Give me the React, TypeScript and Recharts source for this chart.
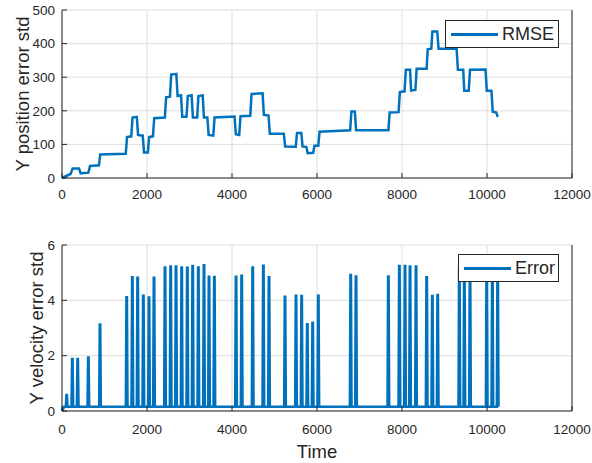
import {
  LineChart,
  Line,
  XAxis,
  YAxis,
  CartesianGrid,
  Legend,
  Label,
  ReferenceLine,
} from 'recharts';

// RMSE step curve: breakpoints
const rmseTime = [
  0, 200, 250, 400, 440, 620, 660, 870, 900, 1500, 1530, 1630, 1660, 1760, 1790, 1900, 1930, 2020,
  2050, 2140, 2170, 2420, 2450, 2540, 2570, 2690, 2720, 2800, 2830, 2930, 2960, 3050, 3080, 3180,
  3210, 3310, 3340, 3420, 3450, 3560, 3590, 4060, 4090, 4170, 4200, 4430, 4460, 4720, 4750, 4860,
  4890, 5220, 5250, 5500, 5530, 5630, 5660, 5750, 5780, 5910, 5940, 6030, 6060, 6780, 6810, 6890,
  6920, 7680, 7710, 7920, 7950, 8060, 8090, 8190, 8215, 8315, 8345, 8580, 8605, 8690, 8715, 8830,
  8860, 9285, 9315, 9440, 9465, 9570, 9600, 9965, 9995, 10105, 10135, 10220, 10250,
];
const rmseValue = [
  0, 12, 28, 28, 14, 16, 36, 38, 70, 72, 122, 124, 180, 182, 128, 126, 76, 76,
  122, 124, 178, 180, 240, 242, 308, 310, 244, 246, 182, 182, 244, 246, 180, 180,
  244, 246, 180, 180, 128, 126, 180, 183, 130, 128, 184, 185, 250, 252, 188, 186,
  132, 132, 94, 93, 134, 134, 94, 92, 74, 75, 96, 96, 138, 142, 198, 198,
  142, 142, 195, 196, 256, 258, 322, 322, 260, 262, 325, 325, 383, 385, 436, 436,
  385, 385, 322, 322, 260, 260, 322, 323, 260, 260, 197, 195, 182,
];

// Velocity error: spike times and peak heights, baseline level between spikes
const spikeTime = [
  110, 243, 369, 620, 894, 1522, 1655, 1780, 1914, 2047, 2165, 2424, 2557, 2683, 2816, 2949,
  3075, 3208, 3341, 3459, 3585, 4095, 4228, 4487, 4738, 4871, 5247, 5506, 5639, 5772, 5898,
  6031, 6793, 6918, 7679, 7938, 8071, 8189, 8330, 8581, 8714, 8840, 9349, 9467, 9600, 9993,
  10126, 10251,
];
const spikeHeight = [
  0.58, 1.88, 1.88, 1.93, 3.13, 4.11, 4.83, 4.82, 4.17, 4.1, 4.82, 5.19, 5.22, 5.22, 5.19, 5.18,
  5.24, 5.19, 5.27, 4.85, 4.84, 4.85, 4.89, 5.19, 5.25, 4.83, 4.13, 4.17, 4.16, 3.14, 3.19,
  4.17, 4.92, 4.86, 4.86, 5.24, 5.24, 5.22, 5.22, 4.83, 4.16, 4.19, 5.2, 5.2, 5.2, 5.2,
  5.2, 5.2,
];
const errorBase = 0.15;

const timeTicks = [0, 2000, 4000, 6000, 8000, 10000, 12000];
const posTicks = [0, 100, 200, 300, 400, 500];
const velTicks = [0, 2, 4, 6];

const BLUE = '#0072BD';
const INK = '#262626';
const GRID = '#dedede';
const FONT = '"Liberation Sans", Arial, sans-serif';

const rmseData = rmseTime.map((t, i) => ({ t, v: rmseValue[i] }));

const errorData: { t: number; v: number }[] = [{ t: 0, v: 0 }, { t: 50, v: errorBase }];
spikeTime.forEach((t, i) => {
  errorData.push({ t: t - 20, v: errorBase });
  errorData.push({ t: t - 6, v: spikeHeight[i] });
  errorData.push({ t: t + 6, v: spikeHeight[i] });
  errorData.push({ t: t + 20, v: errorBase });
});

const tickStyle = { fill: INK, fontSize: 13.5, fontFamily: FONT };

function AxisTitle({ viewBox, value, x }: any) {
  const cy = viewBox.y + viewBox.height / 2;
  return (
    <text
      x={x}
      y={cy}
      transform={`rotate(-90, ${x}, ${cy})`}
      textAnchor="middle"
      dominantBaseline="central"
      fill={INK}
      fontSize={18.5}
      fontFamily={FONT}
    >
      {value}
    </text>
  );
}

function LegendBox({ name, width }: { name: string; width: number }) {
  return (
    <div
      style={{
        width,
        height: 28,
        boxSizing: 'border-box',
        border: `1px solid ${INK}`,
        background: '#fff',
        display: 'flex',
        alignItems: 'center',
        fontFamily: FONT,
        fontSize: 18,
        color: INK,
      }}
    >
      <div style={{ width: 47, height: 3, background: BLUE, marginLeft: 5, marginRight: 4 }} />
      <span>{name}</span>
    </div>
  );
}

export default function App() {
  return (
    <div style={{ position: 'absolute', left: 0, top: 0, width: 592, height: 463, background: '#fff' }}>
      <LineChart width={592} height={212} data={rmseData} margin={{ top: 10, right: 20, left: 0, bottom: 0 }}>
        <CartesianGrid stroke={GRID} />
        <XAxis
          dataKey="t"
          type="number"
          domain={[0, 12000]}
          ticks={timeTicks}
          height={34}
          stroke={INK}
          tick={tickStyle}
          tickSize={-5}
          tickMargin={16}
        />
        <YAxis
          type="number"
          domain={[0, 500]}
          ticks={posTicks}
          width={62}
          stroke={INK}
          tick={tickStyle}
          tickSize={-5}
          tickMargin={12}
        >
          <Label content={(p: any) => <AxisTitle {...p} value="Y position error std" x={22.5} />} />
        </YAxis>
        <ReferenceLine x={12000} stroke={INK} />
        <Legend
          layout="vertical"
          align="center"
          verticalAlign="middle"
          wrapperStyle={{ left: 445, top: 20, width: 114 }}
          content={() => <LegendBox name="RMSE" width={114} />}
        />
        <Line
          type="linear"
          dataKey="v"
          name="RMSE"
          stroke={BLUE}
          strokeWidth={2.5}
          dot={false}
          isAnimationActive={false}
        />
      </LineChart>
      <LineChart width={592} height={251} data={errorData} margin={{ top: 33, right: 20, left: 0, bottom: 0 }}>
        <CartesianGrid stroke={GRID} />
        <XAxis
          dataKey="t"
          type="number"
          domain={[0, 12000]}
          ticks={timeTicks}
          height={52}
          stroke={INK}
          tick={tickStyle}
          tickSize={-5}
          tickMargin={18}
        >
          <Label value="Time" position="insideBottom" offset={5} fill={INK} fontSize={18.5} fontFamily={FONT} />
        </XAxis>
        <YAxis
          type="number"
          domain={[0, 6]}
          ticks={velTicks}
          width={62}
          stroke={INK}
          tick={tickStyle}
          tickSize={-5}
          tickMargin={12}
        >
          <Label content={(p: any) => <AxisTitle {...p} value="Y velocity error std" x={36} />} />
        </YAxis>
        <ReferenceLine x={12000} stroke={INK} />
        <Legend
          layout="vertical"
          align="center"
          verticalAlign="middle"
          wrapperStyle={{ left: 458, top: 42, width: 101 }}
          content={() => <LegendBox name="Error" width={101} />}
        />
        <Line
          type="linear"
          dataKey="v"
          name="Error"
          stroke={BLUE}
          strokeWidth={2.5}
          dot={false}
          isAnimationActive={false}
        />
      </LineChart>
    </div>
  );
}
